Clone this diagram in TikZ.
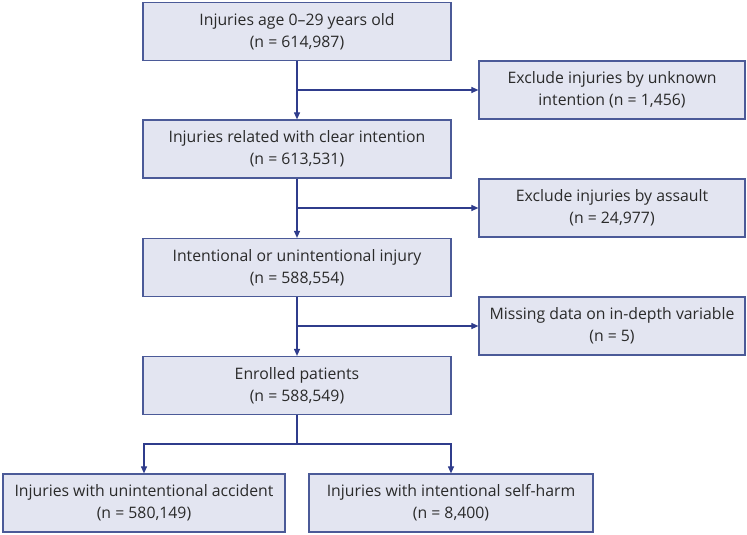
\documentclass[tikz,border=0pt]{standalone}
\usepackage{fontspec}
\setmainfont{Open Sans}
\usetikzlibrary{arrows.meta}
\definecolor{boxfill}{HTML}{E3E5F1}
\definecolor{boxline}{HTML}{4B5A98}
\definecolor{conn}{HTML}{2F3C8C}
\definecolor{txt}{HTML}{2A2A2A}
\begin{document}
\begin{tikzpicture}[x=1pt,y=-1pt,
  fbox/.style={draw=boxline,fill=boxfill,line width=1.2pt,minimum height=58pt,
    align=center,inner sep=0pt,text=txt,font=\fontsize{15.8}{22}\selectfont},
  mainbox/.style={fbox,minimum width=308pt},
  sidebox/.style={fbox,minimum width=266pt},
  conn/.style={draw=conn,line width=1.1pt},
  arr/.style={conn,-{Triangle[length=7pt,width=6pt]}}]
\useasboundingbox (0,0) rectangle (747,535);
\node[mainbox] (b1) at (297,31.5) {Injuries age 0–29 years old\\(n = 614,987)};
\node[mainbox] (b2) at (297,149) {Injuries related with clear intention\\(n = 613,531)};
\node[mainbox] (b3) at (297,267.5) {Intentional or unintentional injury\\(n = 588,554)};
\node[mainbox] (b4) at (297,385.5) {Enrolled patients\\(n = 588,549)};
\node[sidebox] (s1) at (612,90) {Exclude injuries by unknown\\intention (n = 1,456)};
\node[sidebox] (s2) at (612,208) {Exclude injuries by assault\\(n = 24,977)};
\node[sidebox] (s3) at (612,326) {Missing data on in-depth variable\\(n = 5)};
\node[fbox,minimum width=282pt] (bl) at (144,503) {Injuries with unintentional accident\\(n = 580,149)};
\node[fbox,minimum width=284pt] (br) at (451,503) {Injuries with intentional self-harm\\(n = 8,400)};
\coordinate (j1) at (297,90);
\coordinate (j2) at (297,208);
\coordinate (j3) at (297,326);
\coordinate (j4) at (297,444);
\draw[arr] (b1.south) -- (b2.north);
\draw[arr] (b2.south) -- (b3.north);
\draw[arr] (b3.south) -- (b4.north);
\draw[arr] (j1) -- (s1.west);
\draw[arr] (j2) -- (s2.west);
\draw[arr] (j3) -- (s3.west);
\draw[conn] (b4.south) -- (j4);
\draw[arr] (j4) -| (bl.north);
\draw[arr] (j4) -| (br.north);
\end{tikzpicture}
\end{document}
